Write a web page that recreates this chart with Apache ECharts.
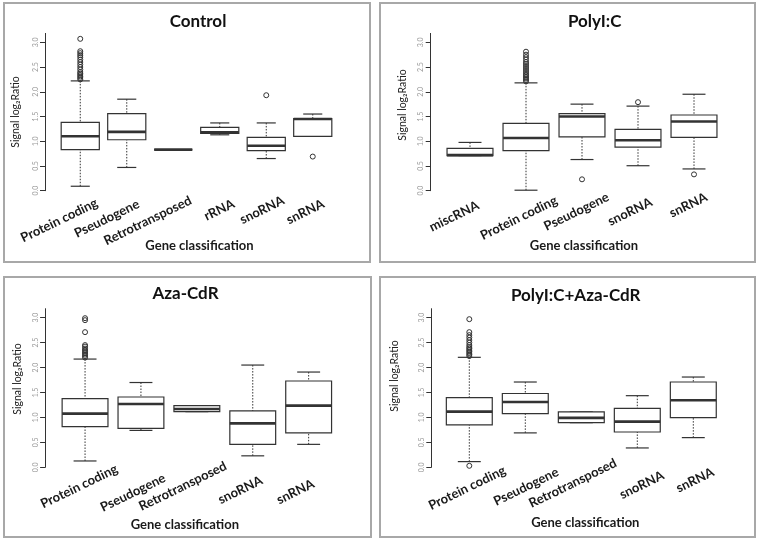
<!DOCTYPE html>
<html><head><meta charset="utf-8">
<script src="https://cdn.jsdelivr.net/npm/echarts@6/dist/echarts.min.js"></script>
<style>html,body{margin:0;padding:0;background:#fff}#c{width:758px;height:540px}</style>
</head><body><div id="c"></div>
<script>
// ---------------- DATA ----------------
const panelTitles = ['Control', 'PolyI:C', 'Aza-CdR', 'PolyI:C+Aza-CdR'];
const yTickValues = [0, 0.5, 1.0, 1.5, 2.0, 2.5, 3.0];
const xAxisTitle = 'Gene classification';
const yAxisTitle = 'Signal log\u2082Ratio';

// each box: [lower whisker, Q1, median, Q3, upper whisker]
const catControl = ['Protein coding', 'Pseudogene', 'Retrotransposed', 'rRNA', 'snoRNA', 'snRNA'];
const boxControl = [
  [0.09, 0.83, 1.10, 1.38, 2.22],
  [0.47, 1.03, 1.19, 1.56, 1.85],
  [0.83, 0.83, 0.83, 0.83, 0.83],
  [1.13, 1.16, 1.18, 1.28, 1.37],
  [0.65, 0.81, 0.91, 1.08, 1.37],
  [1.10, 1.10, 1.45, 1.46, 1.55]
];
const outControl = [
  [0, 2.25], [0, 2.28], [0, 2.31], [0, 2.34], [0, 2.37], [0, 2.40], [0, 2.45], [0, 2.50],
  [0, 2.55], [0, 2.60], [0, 2.65], [0, 2.70], [0, 2.74], [0, 2.78], [0, 2.82], [0, 3.07],
  [4, 1.93], [5, 0.69]
];

const catPoly = ['miscRNA', 'Protein coding', 'Pseudogene', 'snoRNA', 'snRNA'];
const boxPoly = [
  [0.71, 0.71, 0.72, 0.855, 0.976],
  [0.01, 0.81, 1.065, 1.36, 2.18],
  [0.63, 1.09, 1.50, 1.56, 1.75],
  [0.505, 0.88, 1.02, 1.24, 1.71],
  [0.44, 1.08, 1.40, 1.53, 1.95]
];
const outPoly = [
  [1, 2.21], [1, 2.24], [1, 2.27], [1, 2.30], [1, 2.33], [1, 2.36], [1, 2.40], [1, 2.44],
  [1, 2.48], [1, 2.52], [1, 2.56], [1, 2.60], [1, 2.65], [1, 2.70], [1, 2.75], [1, 2.81],
  [2, 0.23], [3, 1.79], [4, 0.33]
];

const catAza = ['Protein coding', 'Pseudogene', 'Retrotransposed', 'snoRNA', 'snRNA'];
const boxAza = [
  [0.127, 0.815, 1.076, 1.376, 2.17],
  [0.74, 0.78, 1.27, 1.41, 1.70],
  [1.116, 1.116, 1.17, 1.236, 1.236],
  [0.23, 0.46, 0.88, 1.13, 2.05],
  [0.46, 0.69, 1.236, 1.73, 1.91]
];
const outAza = [
  [0, 2.20], [0, 2.23], [0, 2.26], [0, 2.29], [0, 2.32], [0, 2.35], [0, 2.38], [0, 2.42],
  [0, 2.45], [0, 2.71], [0, 2.95], [0, 2.99]
];

const catPolyAza = ['Protein coding', 'Pseudogene', 'Retrotransposed', 'snoRNA', 'snRNA'];
const boxPolyAza = [
  [0.114, 0.849, 1.116, 1.396, 2.205],
  [0.69, 1.076, 1.31, 1.48, 1.71],
  [0.895, 0.895, 0.99, 1.11, 1.11],
  [0.388, 0.708, 0.915, 1.18, 1.436],
  [0.595, 0.995, 1.343, 1.71, 1.81]
];
const outPolyAza = [
  [0, 2.23], [0, 2.26], [0, 2.29], [0, 2.32], [0, 2.35], [0, 2.38], [0, 2.41], [0, 2.45],
  [0, 2.50], [0, 2.55], [0, 2.60], [0, 2.65], [0, 2.71], [0, 2.97], [0, 0.03]
];

// ---------------- LAYOUT / STYLE ----------------
const FONT = 'Lato, "Open Sans", sans-serif';
const INK = '#333';
const ROT = 26;
const BOX_RATIO = 0.82;
const layout = [
  { frame: [4, 3, 366, 259], title: [198, 13], grid: [57, 33.4, 279, 157.3], yOff: 12, yGap: 24, yShift: 0,
    xGap: 49, xShift: 3, ldx: [16.7, 11.8, 17.5, 14, 17.3, 10.7], ldy: [11.3, 12.5, 9, 12.3, 8.9, 12.3] },
  { frame: [380, 3, 375, 259], title: [594.7, 13], grid: [442, 33.4, 280, 157.3], yOff: 11.3, yGap: 23, yShift: 7,
    xGap: 49, xShift: 2, ldx: [8.2, 30.5, 26.2, 13.5, 12.5], ldy: [13.9, 8.9, 5.6, 10.6, 5.6] },
  { frame: [4, 277, 367, 260], title: [185.5, 285], grid: [57.1, 308.7, 279.5, 158.6], yOff: 12, yGap: 22, yShift: 9,
    xGap: 51, xShift: -12, ldx: [31.8, 23.7, 29, 9, 5], ldy: [0.7, 10, -2, 12.3, 15.7] },
  { frame: [380, 277, 375, 260], title: [575.7, 287], grid: [441.3, 308.7, 280, 158.6], yOff: 10, yGap: 31, yShift: 12,
    xGap: 49, xShift: 4, ldx: [35.5, 32.5, 34.5, 25.9, 19.9], ldy: [2.3, 4, -5, 7.3, 4] }
];

const panels = [
  { cats: catControl, boxes: boxControl, outs: outControl },
  { cats: catPoly, boxes: boxPoly, outs: outPoly },
  { cats: catAza, boxes: boxAza, outs: outAza },
  { cats: catPolyAza, boxes: boxPolyAza, outs: outPolyAza }
];

const COS = Math.cos(ROT * Math.PI / 180), SIN = Math.sin(ROT * Math.PI / 180);
function labelRich(dx, dy) {
  const rich = {};
  dx.forEach((d, i) => {
    const u = d * COS - dy[i] * SIN;
    const v = d * SIN + dy[i] * COS;
    rich['l' + i] = {
      fontFamily: FONT, fontWeight: 'bold', fontSize: 13, color: '#1a1a1a',
      padding: [Math.max(2 * v, 0), -u, Math.max(-2 * v, 0), 0]
    };
  });
  return rich;
}

function renderBox(params, api) {
  const i = api.value(0);
  const ys = [1, 2, 3, 4, 5].map(k => api.coord([i, api.value(k)])[1]);
  const cx = api.coord([i, api.value(3)])[0];
  const bw = api.size([1, 0])[0] * BOX_RATIO;
  const thin = { stroke: INK, lineWidth: 1.2, fill: null };
  const dash = { stroke: INK, lineWidth: 1, lineDash: [1.5, 1.5] };
  return {
    type: 'group',
    children: [
      { type: 'line', shape: { x1: cx, y1: ys[4], x2: cx, y2: ys[3] }, style: dash },
      { type: 'line', shape: { x1: cx, y1: ys[0], x2: cx, y2: ys[1] }, style: dash },
      { type: 'line', shape: { x1: cx - bw / 4, y1: ys[4], x2: cx + bw / 4, y2: ys[4] }, style: thin },
      { type: 'line', shape: { x1: cx - bw / 4, y1: ys[0], x2: cx + bw / 4, y2: ys[0] }, style: thin },
      { type: 'rect', shape: { x: cx - bw / 2, y: ys[3], width: bw, height: ys[1] - ys[3] }, style: { stroke: INK, lineWidth: 1.2, fill: '#fff' } },
      { type: 'line', shape: { x1: cx - bw / 2, y1: ys[2], x2: cx + bw / 2, y2: ys[2] }, style: { stroke: INK, lineWidth: 2.6 } }
    ]
  };
}

const option = {
  backgroundColor: '#fff',
  animation: false,
  title: [], grid: [], xAxis: [], yAxis: [], series: [],
  graphic: []
};

panels.forEach((p, k) => {
  const L = layout[k];
  option.graphic.push({
    type: 'rect', shape: { x: L.frame[0], y: L.frame[1], width: L.frame[2], height: L.frame[3] },
    style: { fill: null, stroke: '#a8a8a8', lineWidth: 2 }, silent: true
  });
  option.title.push({
    text: panelTitles[k], left: L.title[0], top: L.title[1], textAlign: 'center', padding: 0,
    textStyle: { fontFamily: FONT, fontWeight: 'bold', fontSize: 17, color: '#111' }
  });
  option.grid.push({ left: L.grid[0], top: L.grid[1], width: L.grid[2], height: L.grid[3], outerBoundsMode: 'none', containLabel: false });
  const xs = L.xShift;
  option.xAxis.push({
    gridIndex: k, type: 'category', data: p.cats, boundaryGap: true,
    axisLine: { show: false }, axisTick: { show: false }, splitLine: { show: false },
    axisLabel: {
      interval: 0, rotate: ROT, margin: 0, hideOverlap: false,
      formatter: (v, i) => '{l' + i + '|' + v + '}',
      rich: labelRich(L.ldx, L.ldy)
    },
    name: xAxisTitle, nameLocation: 'middle', nameGap: L.xGap, nameMoveOverlap: false,
    nameTextStyle: {
      fontFamily: FONT, fontWeight: 'bold', fontSize: 13, color: '#1a1a1a',
      padding: [0, xs < 0 ? -2 * xs : 0, 0, xs > 0 ? 2 * xs : 0]
    }
  });
  option.yAxis.push({
    gridIndex: k, type: 'value', min: 0, max: 3.18, interval: 0.5, offset: L.yOff,
    name: yAxisTitle, nameLocation: 'middle', nameGap: L.yGap, nameRotate: 90, nameMoveOverlap: false,
    nameTextStyle: { fontFamily: FONT, fontSize: 10.5, color: '#222', padding: [0, 0, 0, 2 * L.yShift] },
    axisLine: { show: true, lineStyle: { color: INK, width: 1 } },
    axisTick: { show: true, length: 5, lineStyle: { color: INK, width: 1 }, customValues: yTickValues },
    axisLabel: { rotate: 90, margin: 6, fontSize: 7, color: '#9a9a9a', fontFamily: FONT,
      formatter: v => v.toFixed(1), customValues: yTickValues },
    splitLine: { show: false }
  });
  option.series.push({
    type: 'custom', xAxisIndex: k, yAxisIndex: k, renderItem: renderBox,
    encode: { x: 0, y: [1, 2, 3, 4, 5] },
    data: p.boxes.map((b, i) => [i].concat(b)), z: 2
  });
  option.series.push({
    type: 'scatter', xAxisIndex: k, yAxisIndex: k, symbol: 'circle', symbolSize: 5,
    itemStyle: { color: 'rgba(255,255,255,0)', borderColor: INK, borderWidth: 1, opacity: 1 },
    data: p.outs, z: 3
  });
});

const chart = echarts.init(document.getElementById('c'), null, { renderer: 'canvas' });
chart.setOption(option);
</script>
</body></html>
